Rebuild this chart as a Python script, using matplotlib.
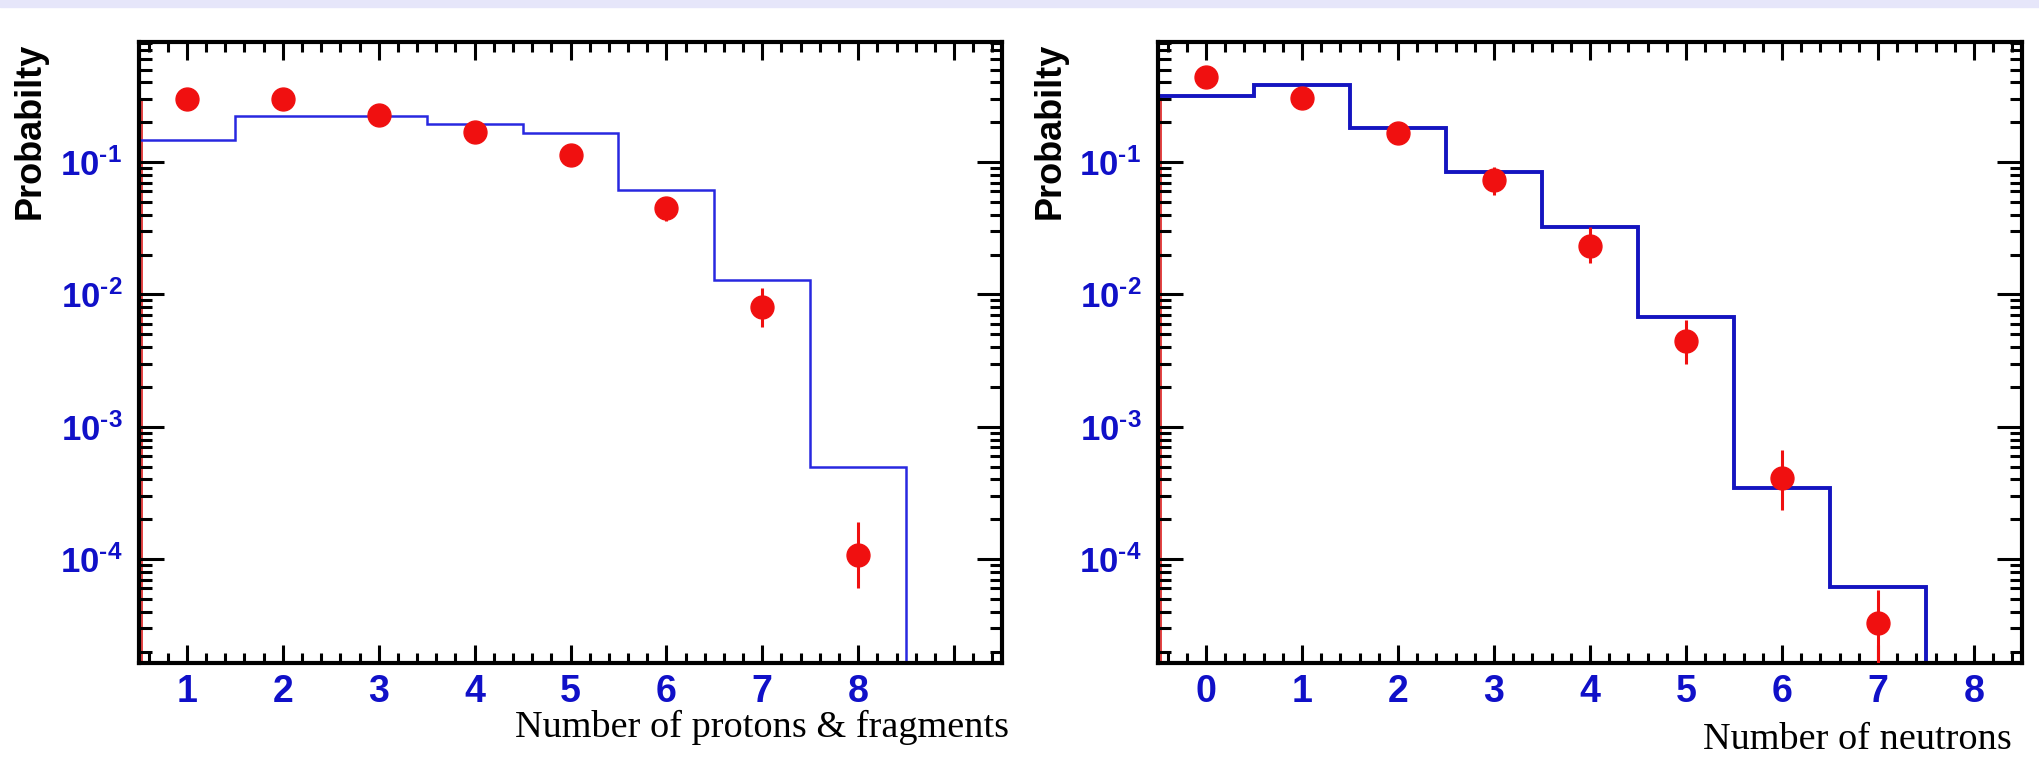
import numpy as np
import matplotlib
matplotlib.use("Agg")
import matplotlib.pyplot as plt
from matplotlib.ticker import MultipleLocator, LogLocator, FuncFormatter, NullFormatter
from matplotlib.patches import Rectangle

# --- données ---
# gauche : nombre de protons & fragments
p_x = [1, 2, 3, 4, 5, 6, 7, 8]
p_val = [0.298, 0.298, 0.227, 0.169, 0.113, 0.0452, 0.00807, 1.07e-4]
p_err_lo = [0.012, 0.012, 0.010, 0.008, 0.006, 0.0092, 0.0024, 4.7e-5]
p_err_hi = [0.012, 0.012, 0.010, 0.008, 0.006, 0.0078, 0.0031, 8.4e-5]
p_edges = [0.5, 1.5, 2.5, 3.5, 4.5, 5.5, 6.5, 7.5, 8.5]
p_hist = [0.147, 0.223, 0.223, 0.193, 0.166, 0.0614, 0.0128, 5.0e-4]
p_ticklabels = [1, 2, 3, 4, 5, 6, 7, 8]

# droite : nombre de neutrons
n_x = [0, 1, 2, 3, 4, 5, 6, 7]
n_val = [0.436, 0.306, 0.165, 0.0731, 0.0233, 0.00446, 4.07e-4, 3.30e-5]
n_err_lo = [0.02, 0.014, 0.01, 0.0168, 0.0061, 0.00146, 1.73e-4, 2.3e-5]
n_err_hi = [0.02, 0.014, 0.01, 0.019, 0.0091, 0.00194, 2.59e-4, 2.53e-5]
n_edges = [-0.5, 0.5, 1.5, 2.5, 3.5, 4.5, 5.5, 6.5, 7.5]
n_hist = [0.317, 0.382, 0.180, 0.0836, 0.0321, 0.00678, 3.42e-4, 6.18e-5]
n_ticklabels = [0, 1, 2, 3, 4, 5, 6, 7, 8]

# trait rouge le long de l'axe gauche (haut du trait)
red_edge_top = [0.29, 0.317]

plt.rcParams['mathtext.fontset'] = 'custom'
plt.rcParams['mathtext.rm'] = 'Liberation Sans:bold'
plt.rcParams['mathtext.bf'] = 'Liberation Sans:bold'

W, H = 2039, 766
fig = plt.figure(figsize=(W / 100, H / 100), dpi=100)
fig.patches.append(Rectangle((0, 1 - 7 / H), 1, 7 / H, transform=fig.transFigure,
                             color='#e6e6fa', zorder=0))

ylim = (1.64e-5, 0.807)
tick_blue = '#1010c8'


def style_axes(ax, xlim, labels):
    ax.set_yscale('log')
    ax.set_xlim(*xlim)
    ax.set_ylim(*ylim)
    for s in ax.spines.values():
        s.set_linewidth(3)
    ax.xaxis.set_major_locator(MultipleLocator(1))
    ax.xaxis.set_minor_locator(MultipleLocator(0.2))
    ax.xaxis.set_major_formatter(FuncFormatter(
        lambda v, p: '%d' % round(v) if round(v) in labels else ''))
    ax.yaxis.set_major_locator(LogLocator(base=10, numticks=20))
    ax.yaxis.set_minor_locator(LogLocator(base=10, subs=np.arange(2, 10), numticks=20))
    ax.yaxis.set_minor_formatter(NullFormatter())
    ax.yaxis.set_major_formatter(FuncFormatter(
        lambda v, p: r'$\mathbf{10^{\text{-}%d}}$' % abs(round(np.log10(v)))))
    ax.tick_params(axis='both', which='both', direction='in', top=True, right=True,
                   width=2.2, color='black')
    ax.tick_params(axis='x', which='major', length=13, pad=8)
    ax.tick_params(axis='x', which='minor', length=7)
    ax.tick_params(axis='y', which='major', length=18, pad=12)
    ax.tick_params(axis='y', which='minor', length=9)
    for lab in ax.get_xticklabels():
        lab.set_fontsize(27)
    for lab in ax.get_yticklabels():
        lab.set_fontsize(25)
    for lab in ax.get_xticklabels() + ax.get_yticklabels():
        lab.set_color(tick_blue)
        lab.set_fontweight('bold')
        lab.set_family(['Liberation Sans', 'DejaVu Sans'])


# --- panneau gauche ---
ax1 = fig.add_axes([139 / W, 1 - 663 / H, (1002 - 139) / W, (663 - 42) / H])
ax1.stairs(p_hist, p_edges, baseline=1e-9, color='#2828e0', lw=1.8, zorder=2)
ax1.errorbar(p_x, p_val, yerr=[p_err_lo, p_err_hi], fmt='o', color='#f01010',
             ms=16.5, elinewidth=2.2, capsize=0, zorder=3)
ax1.plot([0.53, 0.53], [ylim[0], red_edge_top[0]], color='#e02020', lw=1.2, zorder=1)
style_axes(ax1, (0.5, 9.5), p_ticklabels)

# --- panneau droit ---
ax2 = fig.add_axes([1158 / W, 1 - 663 / H, (2022 - 1158) / W, (663 - 42) / H])
ax2.stairs(n_hist, n_edges, baseline=1e-9, color='#1414c0', lw=2.8, zorder=2)
ax2.errorbar(n_x, n_val, yerr=[n_err_lo, n_err_hi], fmt='o', color='#f01010',
             ms=16.5, elinewidth=2.2, capsize=0, zorder=3)
ax2.plot([-0.47, -0.47], [ylim[0], red_edge_top[1]], color='#e02020', lw=1.2, zorder=1)
style_axes(ax2, (-0.5, 8.5), n_ticklabels)

# --- titres d'axes ---
for xc in (30, 1050):
    fig.text(xc / W, 1 - 43 / H, 'Probabilty', rotation=90, ha='center', va='top',
             fontsize=26, fontweight='bold', family=['Liberation Sans', 'DejaVu Sans'])

fig.text(1009 / W, 1 - 737 / H, 'Number of protons & fragments', ha='right',
         va='baseline', fontsize=27.5, family=['Liberation Serif', 'DejaVu Serif'])
fig.text(2012 / W, 1 - 749 / H, 'Number of neutrons', ha='right',
         va='baseline', fontsize=27.5, family=['Liberation Serif', 'DejaVu Serif'])

fig.savefig('out.png', dpi=100, facecolor='white')
